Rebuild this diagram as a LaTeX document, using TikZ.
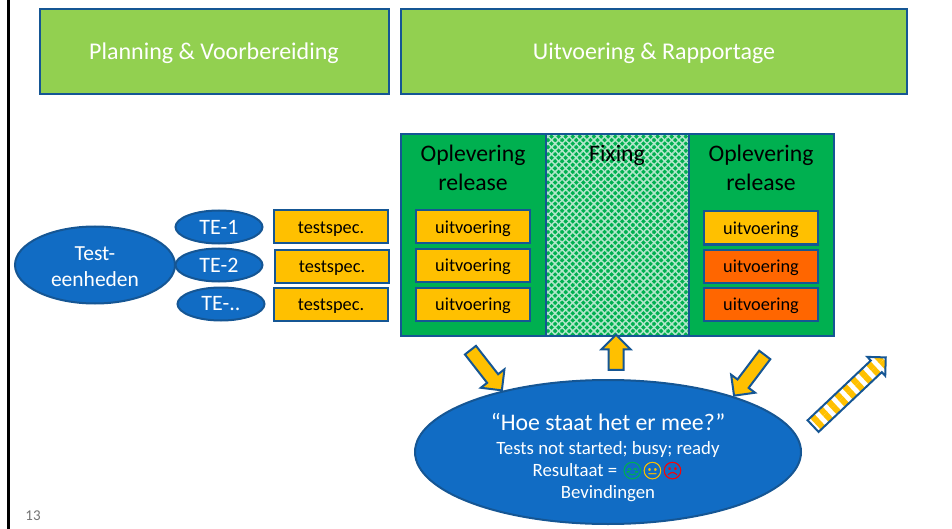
\documentclass[tikz,border=0pt]{standalone}
\usepackage{fontspec}
\setmainfont{Carlito}
\newfontfamily\emojifont[FakeBold=1.5]{Noto Emoji}
\usetikzlibrary{shapes.geometric, shapes.arrows, patterns.meta}

\definecolor{kader}{RGB}{21,86,148}
\definecolor{blauw}{RGB}{17,108,196}
\definecolor{lichtgroen}{RGB}{146,208,80}
\definecolor{groen}{RGB}{0,176,80}
\definecolor{geel}{RGB}{255,192,0}
\definecolor{oranje}{RGB}{255,102,0}

\begin{document}
\begin{tikzpicture}[
		x=1pt, y=-1pt,
		fase/.style={draw=kader, line width=2pt, fill=lichtgroen, text=white, minimum width=349pt, minimum height=85pt, text height=18pt, text depth=2pt, font=\fontsize{24}{28}\selectfont},
		blok/.style={draw=kader, line width=2pt, fill=groen, minimum width=145pt, minimum height=202pt},
		kop/.style={align=center, font=\fontsize{23.7}{29}\selectfont},
		spec/.style={draw=kader, line width=2pt, fill=geel, minimum width=114pt, minimum height=33pt, text height=14pt, text depth=1.5pt, font=\fontsize{18.3}{22}\selectfont},
		rood/.style={spec, fill=oranje},
		wolk/.style={ellipse, draw=kader, line width=2pt, fill=blauw, text=white, inner sep=0pt, align=center},
		te/.style={wolk, minimum width=87pt, minimum height=33pt, font=\fontsize{22}{26}\selectfont},
		pijl/.style={single arrow, draw=kader, line width=2pt, fill=geel, minimum height=51pt, inner ysep=6pt, inner xsep=0pt, single arrow head extend=8pt, single arrow tip angle=90, anchor=center}
	]
	\useasboundingbox (0,0) rectangle (952,529);

	% Slide edge
	\coordinate (randtop) at (8.5,0);
	\coordinate (randbot) at (8.5,529);
	\draw[line width=2.6pt] (randtop) -- (randbot);
	\node[text=black!55, font=\fontsize{15}{18}\selectfont] (nummer) at (33,516) {13};

	% Phases
	\node[fase] (planning) at (214,52) {Planning \& Voorbereiding};
	\node[fase, minimum width=506pt] (uitvoering) at (654,52) {Uitvoering \& Rapportage};

	% Release blocks
	\node[blok, preaction={fill=groen}, preaction={pattern={Lines[angle=45, distance=5pt, line width=1.5pt]}, pattern color=white!70!groen}, pattern={Lines[angle=-45, distance=5pt, line width=1.5pt]}, pattern color=white!70!groen, minimum width=144pt] (fixing) at (617,235) {};
	\node[blok] (release1) at (473,235) {};
	\node[blok] (release2) at (761,235) {};
	\node[kop] (kop1) at (473,168) {Oplevering\\release};
	\node[kop] (kop2) at (761,168) {Oplevering\\release};
	\node[kop] (kop3) at (617,155.5) {Fixing};

	% Test units
	\node[wolk, minimum width=160pt, minimum height=77pt, font=\fontsize{21.5}{26}\selectfont] (eenheden) at (95,265) {\rule{0pt}{17pt}Test-\\eenheden};
	\node[te] (te1) at (219,227) {TE-1};
	\node[te] (te2) at (219,265) {TE-2};
	\node[te] (te3) at (221,304) {TE-..};

	% Test specifications
	\node[spec] (spec1) at (331,227) {testspec.};
	\node[spec] (spec2) at (332,266) {testspec.};
	\node[spec] (spec3) at (331,304) {testspec.};

	% Runs
	\node[spec] (run1) at (473,227) {uitvoering};
	\node[spec] (run2) at (473,265) {uitvoering};
	\node[spec] (run3) at (473,304) {uitvoering};
	\node[spec] (run4) at (761,228) {uitvoering};
	\node[rood] (run5) at (761,266) {uitvoering};
	\node[rood] (run6) at (761,304) {uitvoering};

	% Status
	\node[wolk, minimum width=386pt, minimum height=144pt, font=\fontsize{18.8}{22}\selectfont] (status) at (608,452) {%
		\rule{0pt}{28pt}{\fontsize{23.8}{28}\selectfont “Hoe staat het er mee?”}\\[2pt]
		Tests not started; busy; ready\\
		Resultaat = {\emojifont\fontsize{17}{20}\selectfont\color{groen}😊}\hspace{-1.5pt}{\emojifont\fontsize{17}{20}\selectfont\color{geel}😐}\hspace{-1.5pt}{\emojifont\fontsize{17}{20}\selectfont\color{red}☹}\\
		Bevindingen};

	% Block arrows
	\node[pijl, rotate=-52] (pijl1) at (484,367.5) {};
	\node[pijl, rotate=90, minimum height=35pt, inner ysep=6.5pt, single arrow head extend=7pt] (pijl2) at (616,356) {};
	\node[pijl, rotate=-127] (pijl3) at (751.5,372.5) {};
	\node[pijl, rotate=43.4, minimum height=100pt, inner ysep=5pt, single arrow head extend=5pt, pattern={Lines[angle=-47, distance=11pt, line width=6pt]}, pattern color=geel, preaction={fill=white}] (pijl4) at (846.5,394.5) {};
\end{tikzpicture}
\end{document}
